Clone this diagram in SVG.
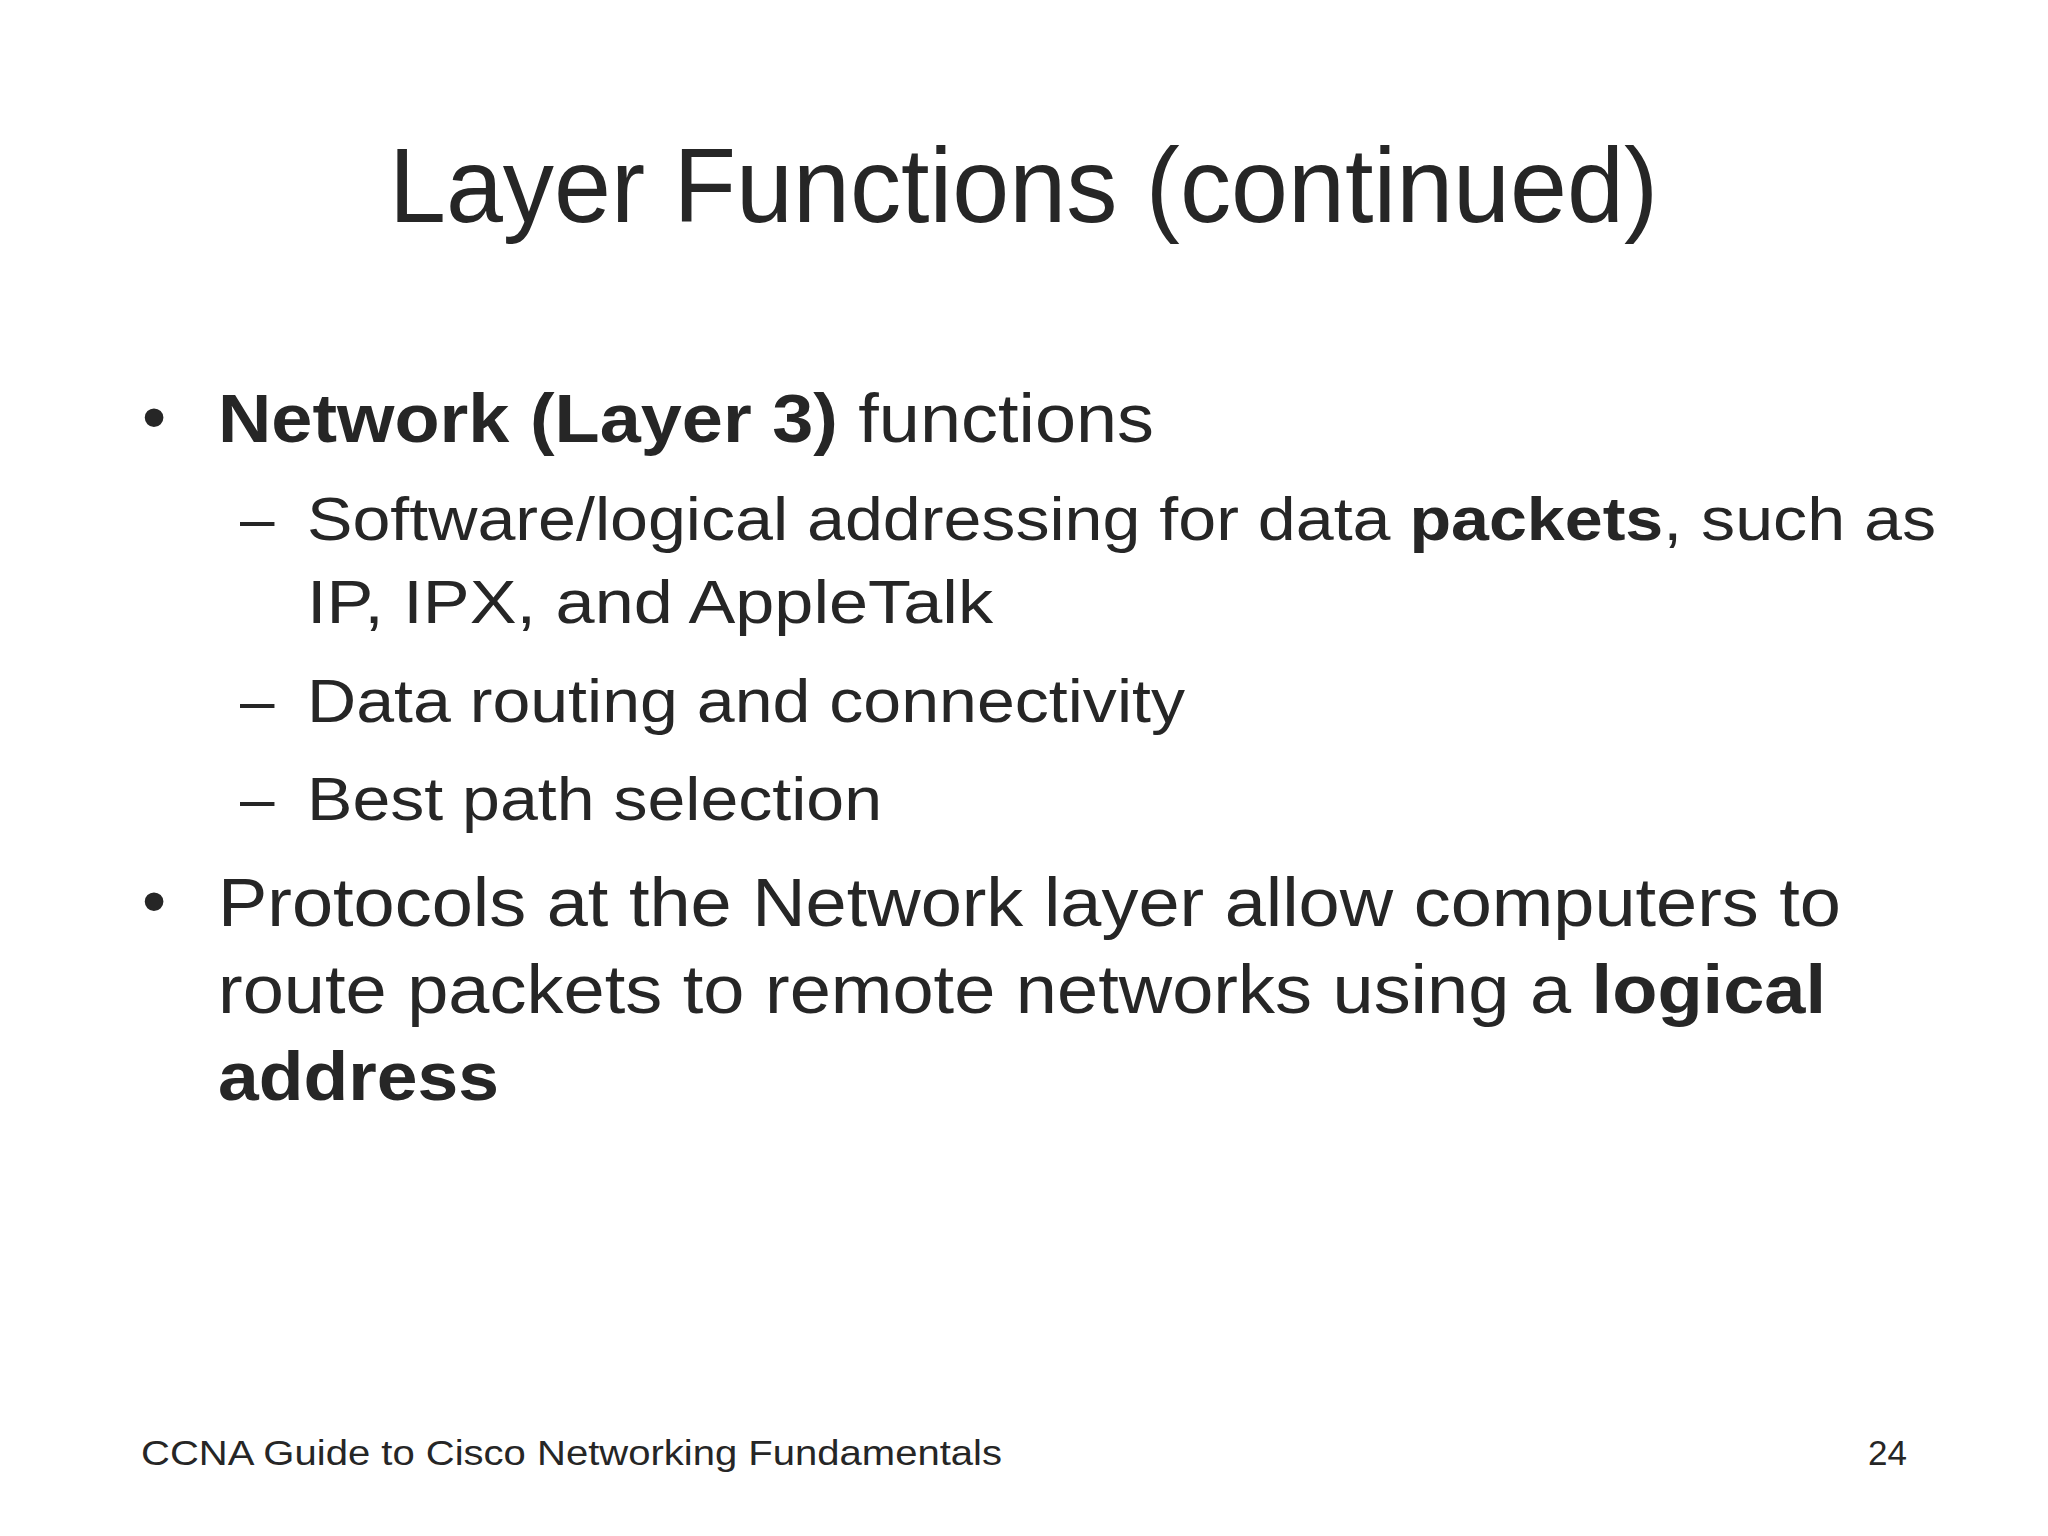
<svg xmlns="http://www.w3.org/2000/svg" width="2048" height="1536" viewBox="0 0 2048 1536">
<style>
text{font-family:"Liberation Sans",Arial,sans-serif;fill:#262626}
.b{font-weight:bold}
.l1{font-size:69px}
.l2{font-size:62px}
</style>
<rect width="2048" height="1536" fill="#fff"/>
<text x="389" y="222" font-size="106" textLength="1269" lengthAdjust="spacingAndGlyphs">Layer Functions (continued)</text>
<g id="bullets">
<text class="l1" x="142" y="440">•</text>
<text class="l1" x="218" y="442" textLength="936" lengthAdjust="spacingAndGlyphs"><tspan class="b">Network (Layer 3)</tspan> functions</text>
<text class="l2" x="240" y="540">–</text>
<text class="l2" x="307" y="540" textLength="1629" lengthAdjust="spacingAndGlyphs">Software/logical addressing for data <tspan class="b">packets</tspan>, such as</text>
<text class="l2" x="307" y="623" textLength="686" lengthAdjust="spacingAndGlyphs">IP, IPX, and AppleTalk</text>
<text class="l2" x="240" y="722">–</text>
<text class="l2" x="307" y="722" textLength="878" lengthAdjust="spacingAndGlyphs">Data routing and connectivity</text>
<text class="l2" x="240" y="820">–</text>
<text class="l2" x="307" y="820" textLength="575" lengthAdjust="spacingAndGlyphs">Best path selection</text>
<text class="l1" x="142" y="924">•</text>
<text class="l1" x="218" y="926" textLength="1623" lengthAdjust="spacingAndGlyphs">Protocols at the Network layer allow computers to</text>
<text class="l1" x="218" y="1013" textLength="1608" lengthAdjust="spacingAndGlyphs">route packets to remote networks using a <tspan class="b">logical</tspan></text>
<text class="l1 b" x="218" y="1100" textLength="281" lengthAdjust="spacingAndGlyphs">address</text>
</g>
<text x="141" y="1465" font-size="35" textLength="861" lengthAdjust="spacingAndGlyphs">CCNA Guide to Cisco Networking Fundamentals</text>
<text x="1907" y="1465" font-size="35" text-anchor="end">24</text>
</svg>
